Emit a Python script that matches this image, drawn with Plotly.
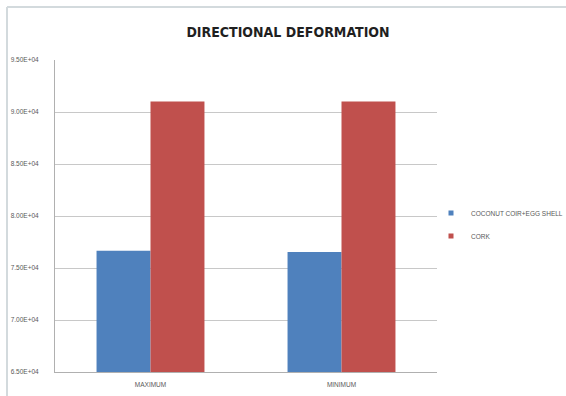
import plotly.graph_objects as go

categories = ["MAXIMUM", "MINIMUM"]
coconut = [76650, 76540]
cork = [91000, 91000]
tick_vals = [65000, 70000, 75000, 80000, 85000, 90000, 95000]
tick_text = ["6.50E+04", "7.00E+04", "7.50E+04", "8.00E+04", "8.50E+04", "9.00E+04", "9.50E+04"]
series_names = ["COCONUT COIR+EGG SHELL", "CORK"]
series_colors = ["#4f81bd", "#c0504d"]

W, H = 566, 396
L, R, T, B = 55, 129, 60, 24
pw, ph = W - L - R, H - T - B

def px(x):
    return (x - L) / pw

def py(y):
    return (H - B - y) / ph

fig = go.Figure()
for name, vals, col in zip(series_names, [coconut, cork], series_colors):
    fig.add_trace(go.Bar(name=name, x=categories, y=vals, showlegend=False,
                         marker=dict(color=col, line=dict(width=0))))
for i, (name, col) in enumerate(zip(series_names, series_colors)):
    fig.add_trace(go.Scatter(name=name, x=[None], y=[None], mode="markers",
                             legendgroup=f"g{i}",
                             marker=dict(symbol="square", size=5, color=col)))

fig.update_layout(
    width=W, height=H,
    margin=dict(l=L, r=R, t=T, b=B, pad=0, autoexpand=False),
    paper_bgcolor="white", plot_bgcolor="white",
    barmode="group", bargap=0.435, bargroupgap=0,
    title=dict(text="<b>DIRECTIONAL DEFORMATION</b>", x=(288) / W, xanchor="center",
               y=1 - 32 / H, yanchor="middle",
               font=dict(family="DejaVu Sans Condensed, Liberation Sans Narrow, sans-serif", size=14, color="#1f1f1f")),
    font=dict(family="Liberation Sans, Arial, sans-serif", size=6.5, color="#595959"),
    showlegend=True,
    legend=dict(x=px(431), xanchor="left", y=py(224.5), yanchor="middle",
                font=dict(size=6.5, color="#595959"), itemwidth=30, tracegroupgap=4,
                itemsizing="trace",
                bgcolor="rgba(0,0,0,0)"),
    xaxis=dict(showgrid=False, showline=True, linecolor="#b0b0b0", linewidth=1,
               ticks="outside", ticklen=6, tickcolor="rgba(0,0,0,0)",
               tickfont=dict(size=6.5, color="#595959")),
    yaxis=dict(range=[65000, 95000], tickvals=tick_vals, ticktext=tick_text,
               showgrid=True, gridcolor="#c8c8c8", gridwidth=1,
               showline=True, linecolor="#b0b0b0", linewidth=1,
               ticks="outside", ticklen=14, tickcolor="rgba(0,0,0,0)",
               tickfont=dict(size=6.5, color="#595959"),
               zeroline=False),
    shapes=[
        dict(type="line", xref="paper", yref="paper", x0=px(7), x1=px(566), y0=py(7), y1=py(7),
             line=dict(color="#d3dadd", width=2)),
        dict(type="line", xref="paper", yref="paper", x0=px(7), x1=px(7), y0=py(7), y1=py(396),
             line=dict(color="#d3dadd", width=2)),
    ],
)

fig.write_html("out.html")
